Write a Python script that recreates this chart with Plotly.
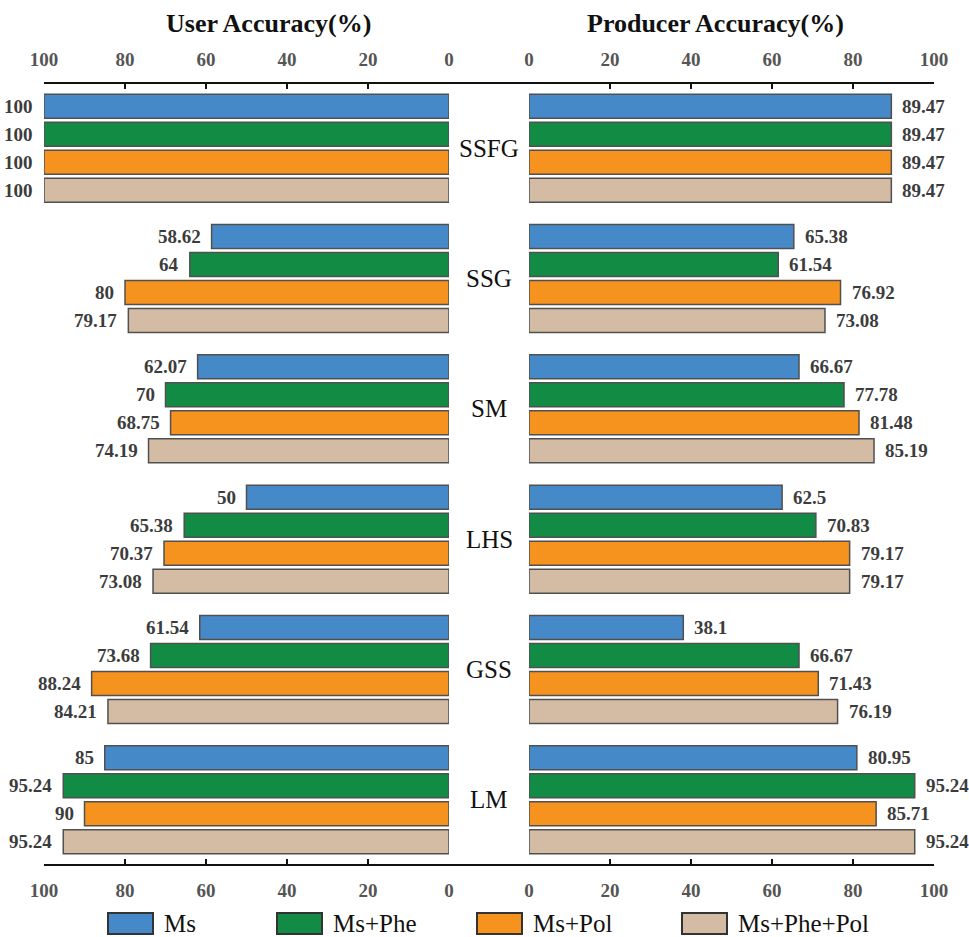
import plotly.graph_objects as go

# ---------------- data ----------------
categories = ["SSFG", "SSG", "SM", "LHS", "GSS", "LM"]
series_names = ["Ms", "Ms+Phe", "Ms+Pol", "Ms+Phe+Pol"]
series_colors = ["#4689C8", "#128C45", "#F6931F", "#D4BCA4"]

user_ms = [100, 58.62, 62.07, 50, 61.54, 85]
user_ms_phe = [100, 64, 70, 65.38, 73.68, 95.24]
user_ms_pol = [100, 80, 68.75, 70.37, 88.24, 90]
user_ms_phe_pol = [100, 79.17, 74.19, 73.08, 84.21, 95.24]

prod_ms = [89.47, 65.38, 66.67, 62.5, 38.1, 80.95]
prod_ms_phe = [89.47, 61.54, 77.78, 70.83, 66.67, 95.24]
prod_ms_pol = [89.47, 76.92, 81.48, 79.17, 71.43, 85.71]
prod_ms_phe_pol = [89.47, 73.08, 85.19, 79.17, 76.19, 95.24]

tick_values = [0, 20, 40, 60, 80, 100]

user_series = [user_ms, user_ms_phe, user_ms_pol, user_ms_phe_pol]
prod_series = [prod_ms, prod_ms_phe, prod_ms_pol, prod_ms_phe_pol]

# ---------------- layout helpers ----------------
W, H = 969, 937
TOP, BOT = 83, 865          # plot area pixel rows
LEFT_X0, LEFT_X1 = 44, 449
RIGHT_X0, RIGHT_X1 = 529, 934
PH = BOT - TOP

def px_x(p):
    return p / W

def px_y(p):
    return (BOT - p) / PH

BARGAP = 0.14
BARGROUPGAP = 0.143
N = len(series_names)
slot = (1 - BARGAP) / N

SERIF = "Liberation Serif, Times New Roman, serif"
VAL_COLOR = "#3c3c3c"
TICK_COLOR = "#555555"

fig = go.Figure()

for k, name in enumerate(series_names):
    fig.add_trace(go.Bar(
        y=categories, x=user_series[k], orientation="h", name=name,
        marker=dict(color=series_colors[k], line=dict(color="#505050", width=1.5)),
        xaxis="x", yaxis="y", showlegend=False, hoverinfo="skip"))
for k, name in enumerate(series_names):
    fig.add_trace(go.Bar(
        y=categories, x=prod_series[k], orientation="h", name=name,
        marker=dict(color=series_colors[k], line=dict(color="#505050", width=1.5)),
        xaxis="x2", yaxis="y", showlegend=False, hoverinfo="skip"))

# invisible helper traces so the top (mirrored) axes get drawn
for ax in ("x3", "x4"):
    fig.add_trace(go.Scatter(x=[50], y=[categories[0]], xaxis=ax, yaxis="y",
                             mode="markers", marker=dict(opacity=0), showlegend=False,
                             hoverinfo="skip"))

annotations = []
# value labels
for k in range(N):
    off = -(1 - BARGAP) / 2 + slot * (k + 0.5)
    for i, cat in enumerate(categories):
        yv = i + off
        uv = user_series[k][i]
        pv = prod_series[k][i]
        annotations.append(dict(x=uv, y=yv, xref="x", yref="y", text=f"{uv:g}",
                                xanchor="right", yanchor="middle", xshift=-9, showarrow=False,
                                font=dict(family=SERIF, size=19, color=VAL_COLOR, weight="bold")))
        annotations.append(dict(x=pv, y=yv, xref="x2", yref="y", text=f"{pv:g}",
                                xanchor="left", yanchor="middle", xshift=9, showarrow=False,
                                font=dict(family=SERIF, size=19, color=VAL_COLOR, weight="bold")))

# category labels in the middle
for cat in categories:
    annotations.append(dict(x=px_x(489), y=cat, xref="paper", yref="y", text=cat,
                            xanchor="center", yanchor="middle", showarrow=False,
                            font=dict(family=SERIF, size=25, color="#111111")))

# panel titles
annotations.append(dict(x=px_x(268), y=px_y(24), xref="paper", yref="paper",
                        text="User Accuracy(%)", showarrow=False, xanchor="center", yanchor="middle",
                        font=dict(family=SERIF, size=26, color="#111111", weight="bold")))
annotations.append(dict(x=px_x(715), y=px_y(24), xref="paper", yref="paper",
                        text="Producer Accuracy(%)", showarrow=False, xanchor="center", yanchor="middle",
                        font=dict(family=SERIF, size=26, color="#111111", weight="bold")))

shapes = []
# continuous axis lines across both panels
for yy in (0, 1):
    shapes.append(dict(type="line", xref="paper", yref="paper",
                       x0=px_x(LEFT_X0), x1=px_x(RIGHT_X1), y0=yy, y1=yy,
                       line=dict(color="#111111", width=2)))

# custom legend (large boxes)
legend_box_x = [108, 277, 477, 682]
for k, name in enumerate(series_names):
    bx = legend_box_x[k]
    shapes.append(dict(type="rect", xref="paper", yref="paper",
                       x0=px_x(bx), x1=px_x(bx + 45), y0=px_y(913), y1=px_y(934),
                       fillcolor=series_colors[k], line=dict(color="#333333", width=2)))
    annotations.append(dict(x=px_x(bx + 54), y=px_y(923.5), xref="paper", yref="paper",
                            text=name, showarrow=False, xanchor="left", yanchor="middle",
                            font=dict(family=SERIF, size=25, color="#111111")))

axis_common = dict(
    tickvals=tick_values, ticktext=[str(v) for v in tick_values],
    ticks="inside", ticklen=6, tickwidth=2, tickcolor="#111111",
    showgrid=False, zeroline=False, showline=False, automargin=False,
    tickfont=dict(family=SERIF, size=19, color=TICK_COLOR, weight="bold"),
    ticklabelstandoff=12, fixedrange=True,
)

fig.update_layout(
    width=W, height=H, autosize=False,
    margin=dict(l=0, r=0, t=TOP, b=H - BOT, pad=0),
    paper_bgcolor="white", plot_bgcolor="white",
    barmode="group", bargap=BARGAP, bargroupgap=BARGROUPGAP,
    xaxis=dict(domain=[px_x(LEFT_X0), px_x(LEFT_X1)], range=[100, 0], anchor="y", side="bottom", **axis_common),
    xaxis2=dict(domain=[px_x(RIGHT_X0), px_x(RIGHT_X1)], range=[0, 100], anchor="y", side="bottom", **axis_common),
    xaxis3=dict(domain=[px_x(LEFT_X0), px_x(LEFT_X1)], range=[100, 0], anchor="y", side="top", overlaying="x", **axis_common),
    xaxis4=dict(domain=[px_x(RIGHT_X0), px_x(RIGHT_X1)], range=[0, 100], anchor="y", side="top", overlaying="x2", **axis_common),
    yaxis=dict(categoryorder="array", categoryarray=categories, range=[len(categories) - 0.5, -0.5],
               showticklabels=False, showgrid=False, zeroline=False, showline=False, ticks="",
               anchor="x", fixedrange=True, automargin=False),
    annotations=annotations, shapes=shapes, showlegend=False,
)

fig.write_html("out.html", config={"displayModeBar": False},
               post_script="document.body.style.margin='0';document.body.style.overflow='hidden';")
